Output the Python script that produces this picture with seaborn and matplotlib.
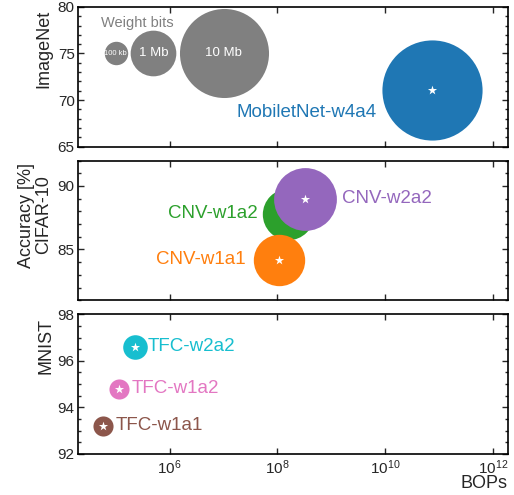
import numpy as np
import pandas as pd
import matplotlib
matplotlib.use("Agg")
import matplotlib.pyplot as plt
from matplotlib.ticker import AutoMinorLocator, LogLocator, MultipleLocator, NullLocator
import seaborn as sns

# Data
imagenet_models = ["MobiletNet-w4a4"]
imagenet_bops = [7.4e10]
imagenet_acc = [71.1]
imagenet_bits = [15e6]

cifar_models = ["CNV-w1a2", "CNV-w1a1", "CNV-w2a2"]
cifar_bops = [1.6e8, 1.05e8, 3.2e8]
cifar_acc = [87.8, 84.2, 89.0]
cifar_bits = [1.5e6, 1.5e6, 3e6]

mnist_models = ["TFC-w2a2", "TFC-w1a2", "TFC-w1a1"]
mnist_bops = [2.3e5, 1.15e5, 5.9e4]
mnist_acc = [96.6, 94.8, 93.2]
mnist_bits = [118e3, 59e3, 59e3]

# weight bits size key
key_labels = ["100 kb", "1 Mb", "10 Mb"]
key_bits = [1e5, 1e6, 1e7]
key_bops = [1e5, 5e5, 1e7]
key_acc = [75, 75, 75]

colors = {
    "MobiletNet-w4a4": "#1f77b4",
    "CNV-w1a1": "#ff7f0e",
    "CNV-w1a2": "#2ca02c",
    "CNV-w2a2": "#9467bd",
    "TFC-w2a2": "#17becf",
    "TFC-w1a2": "#e377c2",
    "TFC-w1a1": "#8c564b",
}
# label offsets in points and alignment
label_pos = {
    "MobiletNet-w4a4": (-40, -16, "right"),
    "CNV-w1a1": (-24, 0, "right"),
    "CNV-w1a2": (-22, 0, "right"),
    "CNV-w2a2": (27, 0, "left"),
    "TFC-w2a2": (9, 0, "left"),
    "TFC-w1a2": (9, 0, "left"),
    "TFC-w1a1": (9, 0, "left"),
}

sns.set_theme(style="ticks")
plt.rcParams["font.family"] = ["Liberation Sans", "DejaVu Sans"]
plt.rcParams.update({
    "axes.linewidth": 1.2,
    "axes.edgecolor": "black",
    "xtick.major.size": 4.5,
    "ytick.major.size": 4.5,
    "ytick.minor.size": 2.3,
    "xtick.major.width": 1.0,
    "ytick.major.width": 1.0,
    "ytick.minor.width": 1.0,
    "xtick.labelsize": 11,
    "ytick.labelsize": 11,
    "xtick.major.pad": 3,
    "ytick.major.pad": 2.5,
    "axes.labelsize": 13,
})


def bubble_area(bits):
    # marker area (pt^2) grows sub-linearly with weight bits
    return 0.358 * np.asarray(bits, dtype=float) ** 0.58


def draw_panel(ax, models, bops, acc, bits):
    df = pd.DataFrame({"model": models, "bops": bops, "acc": acc, "area": bubble_area(bits)})
    for i in range(len(df)):
        sub = df.iloc[[i]]
        m = sub["model"].iloc[0]
        sns.scatterplot(data=sub, x="bops", y="acc", s=sub["area"].iloc[0],
                        color=colors[m], linewidth=0, ax=ax, legend=False, zorder=3)
        sns.scatterplot(data=sub, x="bops", y="acc", marker="*", s=48,
                        color="white", linewidth=0, ax=ax, legend=False, zorder=3)
        dx, dy, ha = label_pos[m]
        ax.annotate(m, (sub["bops"].iloc[0], sub["acc"].iloc[0]), xytext=(dx, dy),
                    textcoords="offset points", ha=ha, va="center",
                    fontsize=13.5, color=colors[m], zorder=4)


fig, axes = plt.subplots(3, 1, figsize=(5.14, 4.95), dpi=100, sharex=True)
fig.subplots_adjust(left=0.152, right=0.988, top=0.986, bottom=0.083, hspace=0.1)
ax1, ax2, ax3 = axes

for ax in axes:
    ax.set_xscale("log")

# size key in top panel
key_df = pd.DataFrame({"bops": key_bops, "acc": key_acc, "area": bubble_area(key_bits)})
for i in range(len(key_df)):
    sub = key_df.iloc[[i]]
    sns.scatterplot(data=sub, x="bops", y="acc", s=sub["area"].iloc[0], color="#808080",
                    linewidth=0, ax=ax1, legend=False, zorder=3)
for lab, xb, ya in zip(key_labels, key_bops, key_acc):
    ax1.text(xb, ya, lab, ha="center", va="center", color="white",
             fontsize=5.5 if lab == "100 kb" else 9.5, zorder=4)
ax1.annotate("Weight bits", (key_bops[1], key_acc[1]), xytext=(-11.5, 22),
             textcoords="offset points", ha="center", va="center",
             color="#808080", fontsize=10.5)

draw_panel(ax1, imagenet_models, imagenet_bops, imagenet_acc, imagenet_bits)
draw_panel(ax2, cifar_models, cifar_bops, cifar_acc, cifar_bits)
draw_panel(ax3, mnist_models, mnist_bops, mnist_acc, mnist_bits)

ax1.set_ylim(65, 80)
ax1.yaxis.set_major_locator(MultipleLocator(5))
ax2.set_ylim(81, 92)
ax2.yaxis.set_major_locator(MultipleLocator(5))
ax3.set_ylim(92, 98)
ax3.yaxis.set_major_locator(MultipleLocator(2))

ax1.set_ylabel("ImageNet")
ax2.set_ylabel("Accuracy [%]\nCIFAR-10", linespacing=1.0)
ax3.set_ylabel("MNIST")
ax1.yaxis.set_label_coords(-0.06, 0.70)
ax2.yaxis.set_label_coords(-0.06, 0.61)
ax3.yaxis.set_label_coords(-0.055, 0.77)

for ax in axes:
    ax.set_xlim(2e4, 1.9e12)
    ax.xaxis.set_major_locator(LogLocator(base=100))
    ax.xaxis.set_minor_locator(NullLocator())
    ax.yaxis.set_minor_locator(AutoMinorLocator())
    ax.tick_params(which="both", direction="in", top=True, right=True)
    ax.set_xlabel("")

ax3.set_xlabel("BOPs", loc="right", labelpad=-1)

fig.savefig("out.png", dpi=100)
